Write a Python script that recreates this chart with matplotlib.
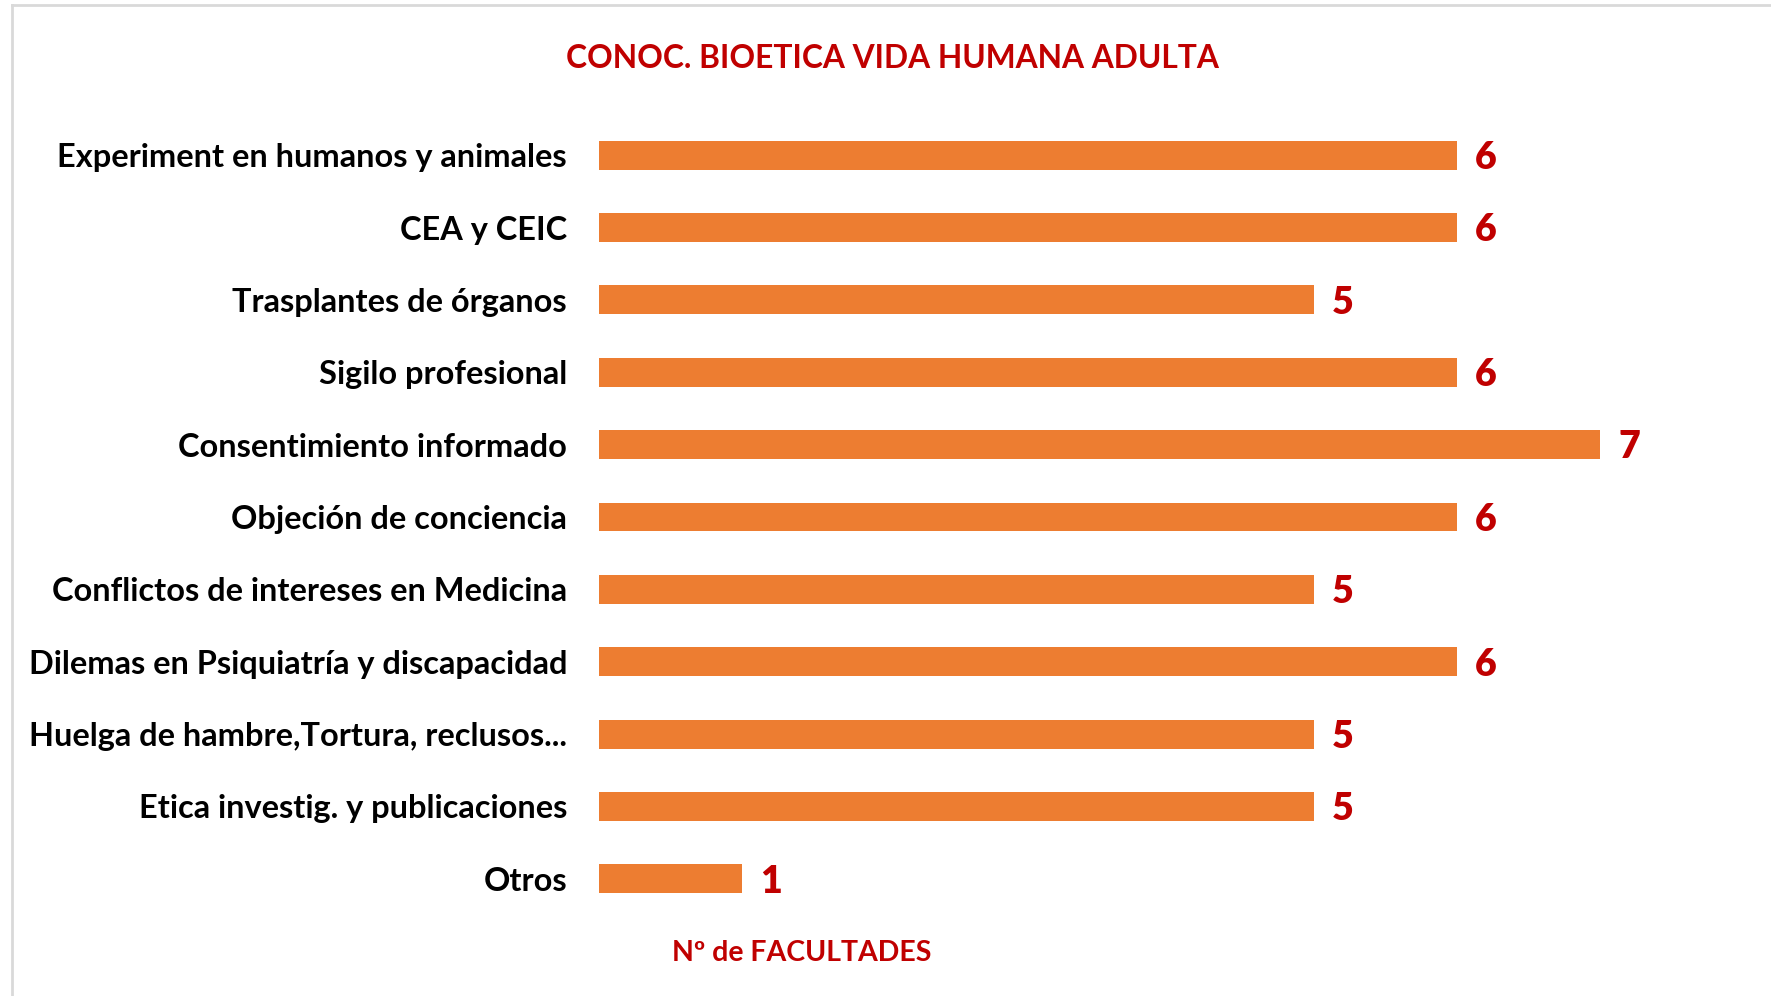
#%% Imports and data

import matplotlib
matplotlib.use('Agg')
import matplotlib.pyplot as plt
from matplotlib.lines import Line2D

categories = ['Experiment en humanos y animales',
              'CEA y CEIC',
              'Trasplantes de órganos',
              'Sigilo profesional',
              'Consentimiento informado',
              'Objeción de conciencia',
              'Conflictos de intereses en Medicina',
              'Dilemas en Psiquiatría y discapacidad',
              'Huelga de hambre,Tortura, reclusos...',
              'Etica investig. y publicaciones',
              'Otros']
values = [6, 6, 5, 6, 7, 6, 5, 6, 5, 5, 1]

title = 'CONOC. BIOETICA VIDA HUMANA ADULTA'
xlabel = 'Nº de FACULTADES'

barColor = '#ED7D31'
redColor = '#C00000'
fontName = 'Lato'


#%% Figure

W, H = 1771, 996
dpi = 100
fig = plt.figure(figsize=(W / dpi, H / dpi), dpi=dpi)
fig.patch.set_facecolor('white')

# axes placed in pixel terms of the original picture
axLeft, axRight = 599, 1743
axTop, axBottom = 119, 915
ax = fig.add_axes([axLeft / W, 1 - axBottom / H, (axRight - axLeft) / W, (axBottom - axTop) / H])

yPos = list(range(len(categories)))
ax.barh(yPos, values, height=0.4, color=barColor)
ax.set_xlim(0, 8)
ax.set_ylim(len(categories) - 0.5, -0.5)

for y, v in zip(yPos, values):
    ax.annotate(str(v), xy=(v, y), xytext=(13, -2), textcoords='offset points',
                ha='left', va='center', color=redColor, fontsize=27,
                fontweight='heavy', fontname=fontName)

ax.set_yticks(yPos)
ax.set_yticklabels(categories, fontsize=23.4, fontweight='bold', fontname=fontName, color='black')
ax.tick_params(axis='y', length=0, pad=23)
ax.set_xticks([])
for s in ax.spines.values():
    s.set_visible(False)

# title and axis caption
fig.text(892 / W, 1 - 58 / H, title, ha='center', va='center', color=redColor,
         fontsize=22.9, fontname=fontName, fontweight='bold')
fig.text(802 / W, 1 - 953 / H, xlabel, ha='center', va='center', color=redColor,
         fontsize=20.5, fontname=fontName, fontweight='bold')

# light gray frame on top and left
fig.add_artist(Line2D([12 / W, 12 / W], [0, 1 - 5 / H], color='#D9D9D9', lw=2, transform=fig.transFigure))
fig.add_artist(Line2D([12 / W, 1], [1 - 5 / H, 1 - 5 / H], color='#D9D9D9', lw=2, transform=fig.transFigure))

plt.savefig('out.png', dpi=dpi)
